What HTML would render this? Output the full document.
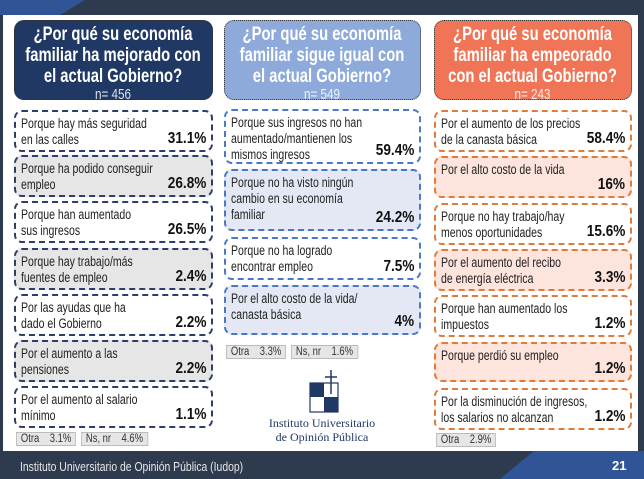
<!DOCTYPE html>
<html><head><meta charset="utf-8">
<style>
*{margin:0;padding:0;box-sizing:border-box}
body{width:644px;height:479px;overflow:hidden;background:#2e3a4e;font-family:"Liberation Sans",sans-serif;position:relative}
.abs{position:absolute}
#page{left:3px;top:15px;width:635px;height:436px;background:#fff}
.hdr{border:1.5px dotted #333;border-radius:10px;color:#fff;text-align:center;font-weight:bold;font-size:19px;line-height:21px;padding-top:3px;overflow:hidden}
.sq{transform-origin:0 0;transform:scaleX(0.78)}
.hdr .n{font-weight:normal;font-size:15px;line-height:16px;opacity:.85}
.box{border:2px dashed;border-radius:8px;font-size:13.5px;line-height:16px;color:#222;padding:4px 5px}
.pct{position:absolute;right:5px;bottom:3px;font-weight:bold;font-size:16px;color:#111;transform-origin:100% 100%;transform:scaleX(0.85)}
.tag{background:#e6e6e6;border:1px solid #bbb;font-size:11.5px;color:#333;height:14px;line-height:12px;padding:0 5px;white-space:pre}
</style></head><body>
<div class="abs" style="left:0;top:0;width:644px;height:15px;background:#2e3a4e"></div>
<svg class="abs" style="left:0;top:0" width="120" height="15"><polygon points="0,0 85,0 60,15 0,15" fill="#2f5597"/></svg>
<div id="page" class="abs"></div>
<div class="abs" style="left:0;top:451px;width:644px;height:28px;background:#2e3a4e"></div>
<svg class="abs" style="left:500px;top:451px" width="144" height="28"><polygon points="34,0 144,0 144,28 0,28" fill="#2f5597"/></svg>
<div class="abs" style="left:20px;top:459px;color:#e8e8e8;font-size:13px;transform-origin:0 0;transform:scaleX(0.8);white-space:nowrap">Instituto Universitario de Opinión Pública (Iudop)</div>
<div class="abs" style="left:612px;top:458px;color:#fff;font-size:13px;font-weight:bold">21</div>

<div class="abs" style="left:262px;top:368px;width:120px;height:80px">
<svg class="abs" style="left:46px;top:0" width="32" height="46">
<line x1="23" y1="2" x2="23" y2="26" stroke="#1f3864" stroke-width="1.5"/>
<line x1="17" y1="9" x2="29" y2="9" stroke="#1f3864" stroke-width="1.5"/>
<rect x="2" y="15" width="28" height="29" fill="none" stroke="#1f3864" stroke-width="1.2"/>
<rect x="2" y="15" width="14" height="14" fill="#1f3864"/>
<rect x="16" y="29" width="14" height="15" fill="#1f3864"/>
</svg>
<div class="abs" style="left:0;top:48px;width:120px;text-align:center;font-family:'Liberation Serif',serif;font-size:12px;line-height:14px;color:#1f3864">Instituto Universitario<br>de Opinión Pública</div>
</div>
<div id="root"></div>
<script>
const titles=[["¿Por qué su economía","familiar ha mejorado con","el actual Gobierno?"],["¿Por qué su economía","familiar sigue igual con","el actual Gobierno?"],["¿Por qué su economía","familiar ha empeorado","con el actual Gobierno?"]];
const ns=["n= 456","n= 549","n= 243"];
const labels1=["Porque hay más seguridad<br>en las calles","Porque ha podido conseguir<br>empleo","Porque han aumentado<br>sus ingresos","Porque hay trabajo/más<br>fuentes de empleo","Por las ayudas que ha<br>dado el Gobierno","Por el aumento a las<br>pensiones","Por el aumento al salario<br>mínimo"];
const values1=["31.1%","26.8%","26.5%","2.4%","2.2%","2.2%","1.1%"];
const labels2=["Porque sus ingresos no han<br>aumentado/mantienen los<br>mismos ingresos","Porque no ha visto ningún<br>cambio en su economía<br>familiar","Porque no ha logrado<br>encontrar empleo","Por el alto costo de la vida/<br>canasta básica"];
const values2=["59.4%","24.2%","7.5%","4%"];
const labels3=["Por el aumento de los precios<br>de la canasta básica","Por el alto costo de la vida","Porque no hay trabajo/hay<br>menos oportunidades","Por el aumento del recibo<br>de energía eléctrica","Porque han aumentado los<br>impuestos","Porque perdió su empleo","Por la disminución de ingresos,<br>los salarios no alcanzan"];
const values3=["58.4%","16%","15.6%","3.3%","1.2%","1.2%","1.2%"];
const tags1=["Otra    3.1%","Ns, nr    4.6%"];
const tags2=["Otra    3.3%","Ns, nr    1.6%"];
const tags3=["Otra    2.9%"];

const cols=[
 {x:14,w:199,hc:"#1f3864",bc:"#2c3e6b",fc:"#e6e6e6",labels:labels1,values:values1,tags:tags1,tops:[110,155,201,248,294,340,386],hs:[42,42,42,42,42,42,42],tagY:432},
 {x:224,w:197,hc:"#8eaadb",bc:"#4a78c8",fc:"#e3e8f4",labels:labels2,values:values2,tags:tags2,tops:[109,169,237,285],hs:[55,62,43,50],tagY:345},
 {x:434,w:198,hc:"#f07556",bc:"#e07b39",fc:"#fde4dc",labels:labels3,values:values3,tags:tags3,tops:[110,156,203,249,295,342,388],hs:[42,42,42,42,42,40,42],tagY:433}
];
const S=0.78;
const root=document.getElementById('root');
cols.forEach((c,ci)=>{
 const h=document.createElement('div');
 h.className='abs hdr';
 
 
 h.style.cssText=`left:${c.x}px;top:20px;width:${c.w}px;height:80px;background:${c.hc}`;
 h.innerHTML=`<div class="sq" style="width:${(c.w-3)/S}px">`+titles[ci].join('<br>')+`<div class="n">${ns[ci]}</div></div>`;
 root.appendChild(h);
 c.labels.forEach((l,i)=>{
  const b=document.createElement('div');
  b.className='abs box';
  
  
  b.style.cssText=`left:${c.x}px;top:${c.tops[i]}px;width:${c.w}px;height:${c.hs[i]}px;border-color:${c.bc};background:${i%2?c.fc:'#fff'}`;
  b.innerHTML=`<div class="sq" style="width:${(c.w-14)/S}px;white-space:nowrap">${l}</div><span class="pct">${c.values[i]}</span>`;
  root.appendChild(b);
 });
 let tx=c.x+2;
 c.tags.forEach(t=>{
  const g=document.createElement('div');
  g.className='abs tag';
  
  
  g.style.cssText=`left:${tx}px;top:${c.tagY}px;transform-origin:0 0;transform:scaleX(0.82)`;
  g.textContent=t;
  root.appendChild(g);
  tx+=g.offsetWidth*0.82+5;
 });
});
</script>
</body></html>
